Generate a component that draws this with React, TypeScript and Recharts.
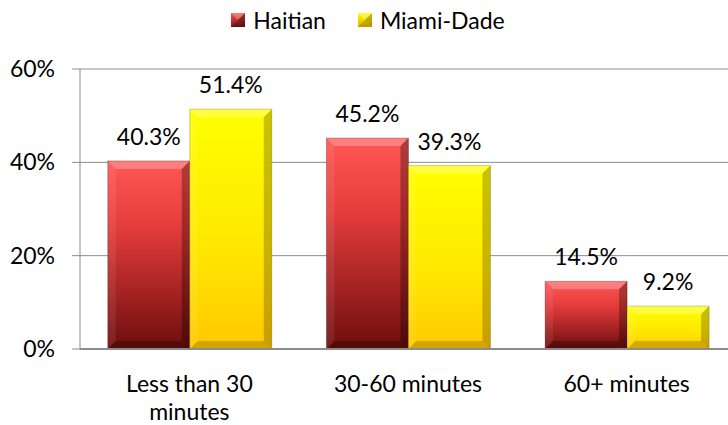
import React from "react";
import { BarChart, Bar, XAxis, YAxis, CartesianGrid, Legend, LabelList } from "recharts";

const categories = ["Less than 30 minutes", "30-60 minutes", "60+ minutes"];
const haitian = [40.3, 45.2, 14.5];
const miamiDade = [51.4, 39.3, 9.2];
const yTicks = [0, 20, 40, 60];

const data = categories.map((c, i) => ({ name: c, haitian: haitian[i], miami: miamiDade[i] }));

const FONT = "Lato, 'Open Sans', sans-serif";
const MAX_LINE_CHARS = 13;

const wrapWords = (s: string) => {
  const words = String(s).split(" ");
  const lines: string[] = [];
  let cur = "";
  words.forEach((w) => {
    const next = cur ? cur + " " + w : w;
    if (next.length > MAX_LINE_CHARS && cur) {
      lines.push(cur);
      cur = w;
    } else {
      cur = next;
    }
  });
  if (cur) lines.push(cur);
  return lines;
};

const BevelBar = (props: any) => {
  const { x, y, width: w, height: h, gradId, dark } = props;
  if (!h || h <= 0) return null;
  const b = Math.min(8, h / 2, w / 2);
  return (
    <g>
      <rect x={x} y={y} width={w} height={h} fill={`url(#${gradId})`} />
      <polygon points={`${x},${y} ${x + w},${y} ${x + w - b},${y + b} ${x + b},${y + b}`} fill="#ffffff" fillOpacity={0.25} />
      <polygon points={`${x},${y} ${x + b},${y + b} ${x + b},${y + h - b} ${x},${y + h}`} fill="#ffffff" fillOpacity={0.08} />
      <polygon points={`${x + w},${y} ${x + w},${y + h} ${x + w - b},${y + h - b} ${x + w - b},${y + b}`} fill={dark} fillOpacity={0.3} />
      <polygon points={`${x},${y + h} ${x + b},${y + h - b} ${x + w - b},${y + h - b} ${x + w},${y + h}`} fill={dark} fillOpacity={0.25} />
      <rect x={x} y={y} width={w} height={h} fill="none" stroke={dark} strokeOpacity={0.25} strokeWidth={1} />
    </g>
  );
};

const legendItems = [
  { label: "Haitian", dark: "#000000" },
  { label: "Miami-Dade", dark: "#5a4a00" },
];

const renderLegend = () => (
  <div style={{ display: "flex", justifyContent: "center", alignItems: "center", height: 30, fontFamily: FONT, fontSize: 23, color: "#000" }}>
    {legendItems.map((it, i) => (
      <div key={it.label} style={{ display: "flex", alignItems: "center", marginLeft: i === 0 ? 0 : 32 }}>
        <svg width={14} height={14} style={{ marginRight: 8 }}>
          <defs>
            <linearGradient id={`lg${i}`} x1="0" y1="0" x2="0" y2="1">
              {i === 0 ? (
                <>
                  <stop offset="0%" stopColor="#ff5050" />
                  <stop offset="100%" stopColor="#801515" />
                </>
              ) : (
                <>
                  <stop offset="0%" stopColor="#ffff00" />
                  <stop offset="100%" stopColor="#e0b000" />
                </>
              )}
            </linearGradient>
          </defs>
          <rect x={0} y={0} width={14} height={14} fill={`url(#lg${i})`} />
          <polygon points="0,0 14,0 7,7" fill="#ffffff" fillOpacity={0.25} />
          <polygon points="14,0 14,14 7,7" fill={it.dark} fillOpacity={0.35} />
          <polygon points="0,14 14,14 7,7" fill={it.dark} fillOpacity={0.25} />
        </svg>
        <span>{it.label}</span>
      </div>
    ))}
  </div>
);

const XTick = (props: any) => {
  const { x, y, payload } = props;
  const lines = wrapWords(payload.value);
  return (
    <text x={x} y={y + 35} textAnchor="middle" fontSize={23} fontFamily={FONT} fill="#000">
      {lines.map((l, i) => (
        <tspan key={i} x={x} dy={i === 0 ? 0 : 28}>
          {l}
        </tspan>
      ))}
    </text>
  );
};

const fmt = (v: any) => `${Number(v).toFixed(1)}%`;

export default function App() {
  return (
    <div style={{ position: "absolute", left: 0, top: 0, width: 728, height: 425, background: "#fff", overflow: "hidden" }}>
      <BarChart
        width={728}
        height={425}
        data={data}
        margin={{ top: 5, right: -8, bottom: 0, left: 0 }}
        barCategoryGap="12.7%"
        barGap={0}
        style={{ overflow: "visible" }}
      >
        <defs>
          <linearGradient id="gradRed" x1="0" y1="0" x2="0" y2="1">
            <stop offset="0%" stopColor="#ff5656" />
            <stop offset="35%" stopColor="#e53c3c" />
            <stop offset="100%" stopColor="#6e0d0d" />
          </linearGradient>
          <linearGradient id="gradYellow" x1="0" y1="0" x2="0" y2="1">
            <stop offset="0%" stopColor="#ffff00" />
            <stop offset="60%" stopColor="#ffe600" />
            <stop offset="100%" stopColor="#ffc800" />
          </linearGradient>
        </defs>
        <Legend verticalAlign="top" align="center" height={64} content={renderLegend} />
        <CartesianGrid vertical={false} stroke="#8c8c8c" strokeWidth={1} />
        <XAxis
          dataKey="name"
          height={76}
          tickLine={false}
          axisLine={{ stroke: "#8c8c8c", strokeWidth: 2 }}
          tick={<XTick />}
          interval={0}
        />
        <YAxis
          width={80}
          domain={[0, 60]}
          ticks={yTicks}
          tickFormatter={(v: any) => `${v}%`}
          axisLine={{ stroke: "#8c8c8c", strokeWidth: 1 }}
          tickLine={{ stroke: "#8c8c8c" }}
          tickSize={8}
          tickMargin={17}
          tick={{ fontSize: 23, fontFamily: FONT, fill: "#000" }}
        />
        <Bar dataKey="haitian" name="Haitian" isAnimationActive={false} shape={(p: any) => <BevelBar {...p} gradId="gradRed" dark="#000000" />}>
          <LabelList dataKey="haitian" position="top" offset={16} formatter={fmt} style={{ fontSize: 23, fontFamily: FONT, fill: "#000" }} />
        </Bar>
        <Bar dataKey="miami" name="Miami-Dade" isAnimationActive={false} shape={(p: any) => <BevelBar {...p} gradId="gradYellow" dark="#4a3c00" />}>
          <LabelList dataKey="miami" position="top" offset={16} formatter={fmt} style={{ fontSize: 23, fontFamily: FONT, fill: "#000" }} />
        </Bar>
      </BarChart>
    </div>
  );
}
